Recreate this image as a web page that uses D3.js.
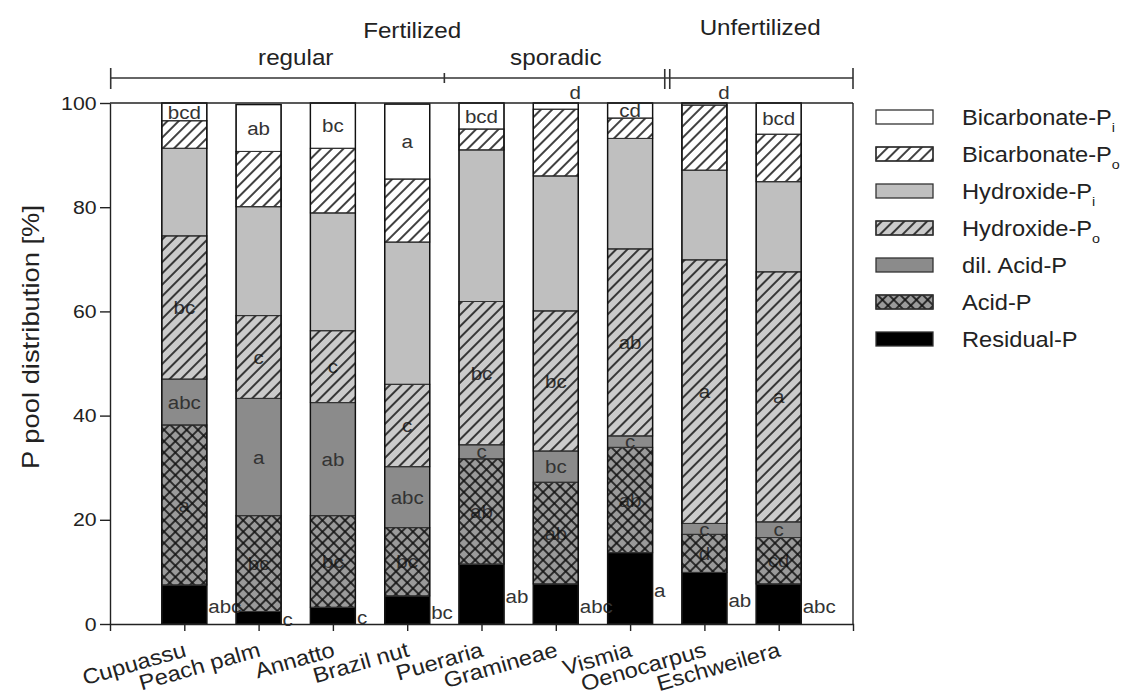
<!DOCTYPE html>
<html>
<head>
<meta charset="utf-8">
<script src="https://cdn.jsdelivr.net/npm/d3@7"></script>
<style>
  body { margin: 0; background: #fff; }
  text { font-family: "Liberation Sans", Arial, Helvetica, sans-serif; fill: #222; }
</style>
</head>
<body>
<svg id="chart" width="1128" height="693"></svg>
<script>
// ---- data (% of total P, stacked bottom to top) ----
const categories = ["Cupuassu", "Peach palm", "Annatto", "Brazil nut", "Pueraria",
                    "Gramineae", "Vismia", "Oenocarpus", "Eschweilera"];

const seriesNames = ["Residual-P", "Acid-P", "dil. Acid-P", "Hydroxide-Po",
                     "Hydroxide-Pi", "Bicarbonate-Po", "Bicarbonate-Pi"];

const residualP      = [7.5, 2.4, 3.2, 5.4, 11.5, 7.7, 13.7, 9.9, 7.7];
const acidP          = [30.7, 18.4, 17.6, 13.1, 20.2, 19.5, 20.2, 7.3, 8.9];
const dilAcidP       = [8.8, 22.5, 21.7, 11.7, 2.7, 6.0, 2.2, 2.1, 3.0];
const hydroxidePo    = [27.5, 15.9, 13.8, 15.8, 27.5, 26.9, 35.9, 50.6, 48.0];
const hydroxidePi    = [16.8, 20.9, 22.6, 27.3, 29.1, 25.9, 21.2, 17.2, 17.3];
const bicarbonatePo  = [5.3, 10.6, 12.4, 12.1, 4.0, 12.8, 3.9, 12.5, 9.1];
const bicarbonatePi  = [3.4, 9.0, 8.7, 14.4, 5.0, 1.2, 2.9, 0.4, 6.0];

// significance letters
const residualLetters = ["abc", "c", "c", "bc", "ab", "abc", "a", "ab", "abc"];
const acidLetters     = ["a", "bc", "bc", "bc", "ab", "ab", "ab", "d", "cd"];
const dilAcidLetters  = ["abc", "a", "ab", "abc", "c", "bc", "c", "c", "c"];
const hydroxPoLetters = ["bc", "c", "c", "c", "bc", "bc", "ab", "a", "a"];
const bicarbPiLetters = ["bcd", "ab", "bc", "a", "bcd", "d", "cd", "d", "bcd"];

const yTicks = [0, 20, 40, 60, 80, 100];

// groups shown above the plot
const subGroups = [
  { name: "regular",  members: ["Cupuassu", "Peach palm", "Annatto", "Brazil nut"] },
  { name: "sporadic", members: ["Pueraria", "Gramineae", "Vismia"] }
];
const mainGroups = [
  { name: "Fertilized",   members: ["Cupuassu", "Peach palm", "Annatto", "Brazil nut", "Pueraria", "Gramineae", "Vismia"] },
  { name: "Unfertilized", members: ["Oenocarpus", "Eschweilera"] }
];

// ---- table for the stack ----
const seriesValues = {
  "Residual-P": residualP, "Acid-P": acidP, "dil. Acid-P": dilAcidP,
  "Hydroxide-Po": hydroxidePo, "Hydroxide-Pi": hydroxidePi,
  "Bicarbonate-Po": bicarbonatePo, "Bicarbonate-Pi": bicarbonatePi
};
const seriesLetters = {
  "Residual-P": residualLetters, "Acid-P": acidLetters, "dil. Acid-P": dilAcidLetters,
  "Hydroxide-Po": hydroxPoLetters, "Bicarbonate-Pi": bicarbPiLetters
};
const table = categories.map((c, i) => {
  const row = { cat: c };
  seriesNames.forEach(s => row[s] = seriesValues[s][i]);
  return row;
});

// ---- styles ----
const fills = {
  "Residual-P": "#000000", "Acid-P": "#9a9a9a", "dil. Acid-P": "#8b8b8b",
  "Hydroxide-Po": "#cbcbcb", "Hydroxide-Pi": "#bfbfbf",
  "Bicarbonate-Po": "#ffffff", "Bicarbonate-Pi": "#ffffff"
};
const overlays = { "Acid-P": "url(#cross)", "Hydroxide-Po": "url(#hatch)", "Bicarbonate-Po": "url(#hatch)" };

const svg = d3.select("#chart");
const plotLeft = 110, plotRight = 853, plotTop = 103, plotBottom = 624;
const barW = 45;

// patterns: lines sit in the middle of each tile so they are not clipped
const defs = svg.append("defs");
const ph = defs.append("pattern").attr("id", "hatch").attr("patternUnits", "userSpaceOnUse")
  .attr("width", 8).attr("height", 8).attr("patternTransform", "rotate(45)");
ph.append("line").attr("x1", 4).attr("y1", -1).attr("x2", 4).attr("y2", 9)
  .attr("stroke", "#111").attr("stroke-width", 1.6);
const pc = defs.append("pattern").attr("id", "cross").attr("patternUnits", "userSpaceOnUse")
  .attr("width", 8).attr("height", 8).attr("patternTransform", "rotate(45)");
pc.append("line").attr("x1", 4).attr("y1", -1).attr("x2", 4).attr("y2", 9)
  .attr("stroke", "#111").attr("stroke-width", 1.6);
pc.append("line").attr("x1", -1).attr("y1", 4).attr("x2", 9).attr("y2", 4)
  .attr("stroke", "#111").attr("stroke-width", 1.6);

// stretched text helper
function stext(parent, px, py, str, o = {}) {
  const g = parent.append("g")
    .attr("transform", `translate(${px},${py}) rotate(${o.rot || 0}) scale(${o.sx || 1.1},1)`);
  const t = g.append("text")
    .attr("font-size", o.size || 20)
    .attr("text-anchor", o.anchor || "middle")
    .attr("dy", o.dy || 0)
    .style("fill", o.fill || "#222");
  if (str != null) t.text(str);
  return t;
}

// ---- scales ----
const x = d3.scalePoint().domain(categories).range([plotLeft, plotRight]).padding(1);
const y = d3.scaleLinear().domain([0, 100]).range([plotBottom, plotTop]);

const stacked = d3.stack().keys(seriesNames)(table);

// base fills
const gBars = svg.append("g");
stacked.forEach(layer => {
  gBars.selectAll(null).data(layer).enter().append("rect")
    .attr("x", d => x(d.data.cat) - barW / 2)
    .attr("y", d => y(d[1]))
    .attr("width", barW)
    .attr("height", d => y(d[0]) - y(d[1]))
    .attr("fill", fills[layer.key])
    .attr("stroke", "#333").attr("stroke-width", 1);
});

// letters (drawn beneath the hatching)
const gLab = svg.append("g");
stacked.forEach(layer => {
  const letters = seriesLetters[layer.key];
  if (!letters) return;
  layer.forEach((d, i) => {
    const cx = x(d.data.cat);
    const mid = y((d[0] + d[1]) / 2);
    if (layer.key === "Residual-P") {
      stext(gLab, cx + barW / 2 + 1.5, mid + 2, letters[i], { size: 19, sx: 1.08, anchor: "start", dy: "0.35em", fill: "#333" });
    } else if (d[1] - d[0] < 2) {
      stext(gLab, cx + barW / 2 - 3, y(d[1]) - 4, letters[i], { size: 19, sx: 1.08, fill: "#333" });
    } else {
      stext(gLab, cx, mid, letters[i], { size: 19, sx: 1.08, dy: "0.35em", fill: "#333" });
    }
  });
});

// hatching overlays
const gOver = svg.append("g");
stacked.forEach(layer => {
  if (!overlays[layer.key]) return;
  gOver.selectAll(null).data(layer).enter().append("rect")
    .attr("x", d => x(d.data.cat) - barW / 2)
    .attr("y", d => y(d[1]))
    .attr("width", barW)
    .attr("height", d => y(d[0]) - y(d[1]))
    .attr("fill", overlays[layer.key])
    .attr("stroke", "#333").attr("stroke-width", 1);
});

// bar outlines
svg.append("g").selectAll("rect").data(table).enter().append("rect")
  .attr("x", d => x(d.cat) - barW / 2)
  .attr("y", d => y(d3.sum(seriesNames, s => d[s])))
  .attr("width", barW)
  .attr("height", d => plotBottom - y(d3.sum(seriesNames, s => d[s])))
  .attr("fill", "none").attr("stroke", "#111").attr("stroke-width", 1.4);

// ---- axes ----
const yAxis = svg.append("g").attr("transform", `translate(${plotLeft},0)`)
  .call(d3.axisLeft(y).tickValues(yTicks).tickSize(10).tickSizeOuter(0).tickPadding(2));
yAxis.selectAll("path, line").attr("stroke", "#222").attr("stroke-width", 1.4);
yAxis.selectAll("text").attr("font-size", 19)
  .attr("transform", "scale(1.12,1)").style("fill", "#222");
yAxis.attr("font-family", null).attr("font-size", null);

const xAxis = svg.append("g").attr("transform", `translate(0,${plotBottom})`)
  .call(d3.axisBottom(x).tickSize(7).tickSizeOuter(7).tickFormat(""));
xAxis.selectAll("path, line").attr("stroke", "#222").attr("stroke-width", 1.4);

// frame top and right
svg.append("line").attr("x1", plotLeft).attr("x2", plotRight).attr("y1", plotTop).attr("y2", plotTop)
  .attr("stroke", "#222").attr("stroke-width", 1.4);
svg.append("line").attr("x1", plotRight).attr("x2", plotRight).attr("y1", plotTop).attr("y2", plotBottom)
  .attr("stroke", "#222").attr("stroke-width", 1.4);

// category labels
categories.forEach(c => {
  stext(svg, x(c) + 3, 656, c, { size: 21.5, sx: 1.1, rot: -16, anchor: "end" });
});

// y title
stext(svg, 39, 337, "P pool distribution [%]", { size: 23, sx: 1.19, rot: -90 });

// ---- group brackets ----
const step = x.step();
const bracketY = 78;
const gb = svg.append("g").attr("stroke", "#333").attr("stroke-width", 1.6);
gb.append("line").attr("x1", plotLeft).attr("x2", plotRight).attr("y1", bracketY).attr("y2", bracketY);
gb.append("line").attr("x1", plotLeft + 0.7).attr("x2", plotLeft + 0.7).attr("y1", bracketY - 10).attr("y2", bracketY + 11);
gb.append("line").attr("x1", plotRight).attr("x2", plotRight).attr("y1", bracketY - 10).attr("y2", bracketY + 11);
const splitSub = x(subGroups[0].members[subGroups[0].members.length - 1]) + step / 2;
gb.append("line").attr("x1", splitSub).attr("x2", splitSub).attr("y1", bracketY - 5).attr("y2", bracketY + 5);
const splitMain = x(mainGroups[0].members[mainGroups[0].members.length - 1]) + step / 2;
[-2.5, 2.5].forEach(o => gb.append("line").attr("x1", splitMain + o).attr("x2", splitMain + o)
  .attr("y1", bracketY - 9).attr("y2", bracketY + 11));

const groupCenter = g => d3.mean(g.members, m => x(m));
subGroups.forEach(g => stext(svg, groupCenter(g), 65, g.name, { size: 22, sx: 1.1 }));
stext(svg, groupCenter(mainGroups[0]) + 5, 38, mainGroups[0].name, { size: 22, sx: 1.1 });
stext(svg, (splitMain + plotRight) / 2, 35, mainGroups[1].name, { size: 22, sx: 1.1 });

// ---- legend ----
const legendItems = [
  { key: "Bicarbonate-Pi", base: "Bicarbonate-P", sub: "i" },
  { key: "Bicarbonate-Po", base: "Bicarbonate-P", sub: "o" },
  { key: "Hydroxide-Pi",   base: "Hydroxide-P",   sub: "i" },
  { key: "Hydroxide-Po",   base: "Hydroxide-P",   sub: "o" },
  { key: "dil. Acid-P",    base: "dil. Acid-P",   sub: "" },
  { key: "Acid-P",         base: "Acid-P",        sub: "" },
  { key: "Residual-P",     base: "Residual-P",    sub: "" }
];
const lg = svg.append("g");
legendItems.forEach((it, i) => {
  const cy = 117 + i * 37;
  lg.append("rect").attr("x", 876).attr("y", cy - 7).attr("width", 57).attr("height", 14)
    .attr("fill", fills[it.key]).attr("stroke", "#333").attr("stroke-width", 1.3);
  if (overlays[it.key]) {
    lg.append("rect").attr("x", 876).attr("y", cy - 7).attr("width", 57).attr("height", 14)
      .attr("fill", overlays[it.key]).attr("stroke", "#333").attr("stroke-width", 1.3);
  }
  const t = stext(lg, 962, cy + 7.5, null, { size: 21.5, sx: 1.1, anchor: "start" });
  t.append("tspan").text(it.base);
  if (it.sub) t.append("tspan").attr("font-size", 13).attr("dy", 7).text(it.sub);
});
</script>
</body>
</html>
